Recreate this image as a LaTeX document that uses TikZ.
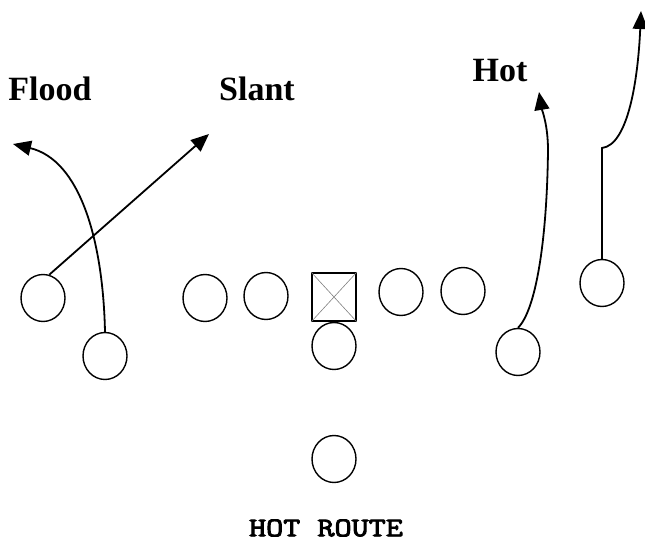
\documentclass[tikz,border=0pt]{standalone}
\usepackage{fontspec}
\setmainfont{Liberation Serif}
\newfontfamily\capfont{Latin Modern Mono}[FakeBold=3]
\usetikzlibrary{shapes.geometric,arrows.meta}
\tikzset{
  player/.style={ellipse,draw,line width=1.4pt,minimum width=44pt,minimum height=47pt,inner sep=0pt},
  centerbox/.style={rectangle,draw,line width=1.6pt,minimum width=44pt,minimum height=48pt,inner sep=0pt},
  route/.style={line width=1.8pt,-{Triangle[length=18pt,width=15pt]}},
  lbl/.style={font=\fontsize{34}{36}\selectfont\bfseries,inner sep=0pt},
  caption/.style={font=\capfont\fontsize{27}{29}\selectfont,inner sep=0pt}
}
\begin{document}
\begin{tikzpicture}[x=1pt,y=-1pt]
\useasboundingbox (0,0) rectangle (645,545);
% players
\node[player] (lwr) at (43,298) {};
\node[player] (slot) at (105,356) {};
\node[player] (lt) at (205,298) {};
\node[player] (lg) at (266,296) {};
\node[centerbox] (c) at (334,297) {};
\node[player] (rg) at (401,292) {};
\node[player] (rt) at (463,291) {};
\node[player] (qb) at (334,346) {};
\node[player] (rb) at (334,459) {};
\node[player] (te) at (518,352) {};
\node[player] (rwr) at (602,283) {};
\draw[gray,line width=0.6pt] (c.north west) -- (c.south east) (c.north east) -- (c.south west);
% route ends
\coordinate (slantend) at (209,134);
\coordinate (floodend) at (13,144);
\coordinate (hotmid) at (548,150);
\coordinate (hotend) at (539,92);
\coordinate (rbreak) at (602,148);
\coordinate (rend) at (641,11);
% routes
\draw[route] (lwr.75) -- (slantend);
\draw[route] (slot.north) .. controls (103,240) and (80,160) .. (floodend);
\draw[route] (te.north) .. controls (536,310) and (547,240) .. (hotmid) .. controls (548,125) and (542,110) .. (hotend);
\draw[route] (rwr.north) -- (rbreak) .. controls (628,145) and (638,80) .. (rend);
% labels
\node[lbl] (flood) at (50,89) {Flood};
\node[lbl] (slant) at (257,89) {Slant};
\node[lbl] (hot) at (500,71) {Hot};
\node[caption] (cap) at (326,528) {\scalebox{1.23}[1]{HOT ROUTE}};
\end{tikzpicture}
\end{document}
